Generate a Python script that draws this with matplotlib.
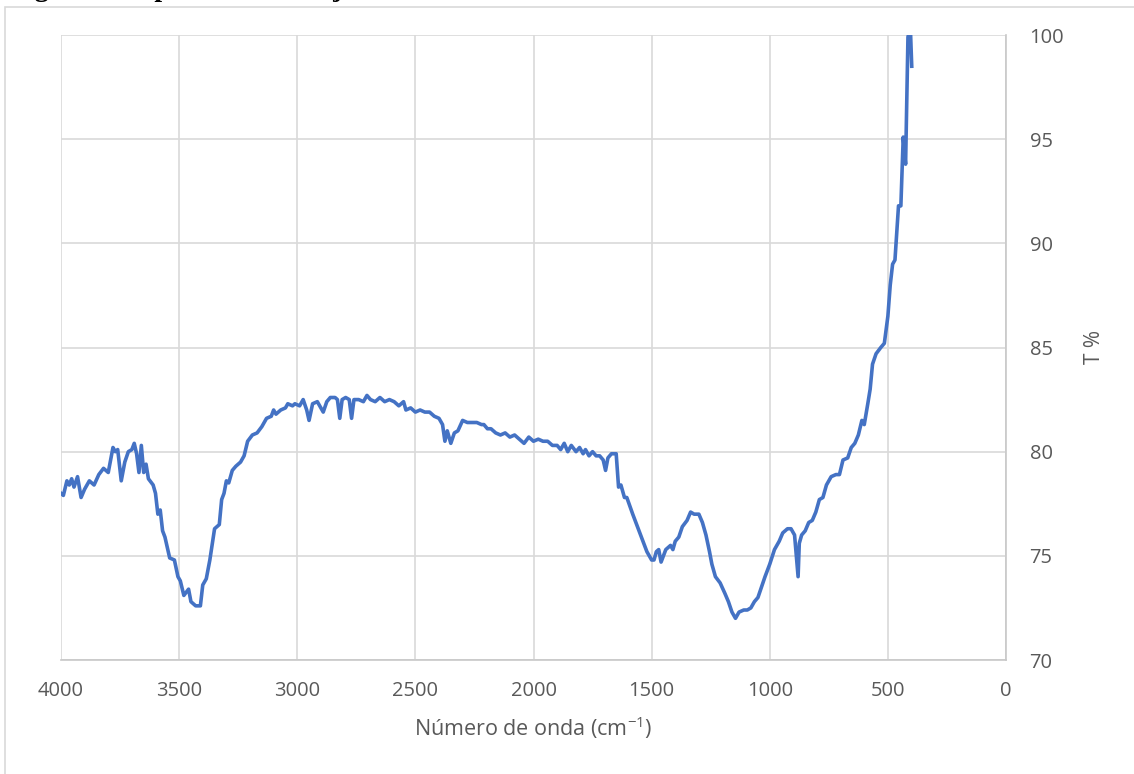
import matplotlib

matplotlib.use("Agg")
import matplotlib.pyplot as plt
from matplotlib.patches import Rectangle

# %% Spectrum values (cm-1, T %)
wavenumber = [
    4000, 3990, 3975, 3965, 3955, 3945, 3930, 3915, 3900, 3880, 3860, 3840,
    3820, 3800, 3780, 3770, 3760, 3745, 3730, 3715, 3700, 3690, 3680, 3670,
    3660, 3650, 3640, 3630, 3610, 3600, 3590, 3580, 3570, 3560, 3540, 3520,
    3505, 3495, 3480, 3460, 3450, 3430, 3410, 3400, 3385, 3370, 3350, 3330,
    3320, 3310, 3300, 3290, 3275, 3260, 3240, 3225, 3210, 3190, 3170, 3150,
    3130, 3110, 3100, 3090, 3070, 3050, 3040, 3020, 3010, 2990, 2975, 2960,
    2950, 2935, 2915, 2900, 2890, 2875, 2860, 2840, 2830, 2820, 2810, 2795,
    2780, 2770, 2760, 2740, 2720, 2705, 2690, 2670, 2650, 2630, 2610, 2590,
    2570, 2550, 2540, 2520, 2500, 2480, 2460, 2440, 2420, 2400, 2385, 2375,
    2365, 2350, 2335, 2320, 2300, 2280, 2260, 2240, 2220, 2210, 2195, 2180,
    2160, 2140, 2120, 2100, 2080, 2060, 2040, 2020, 2000, 1980, 1960, 1940,
    1920, 1900, 1885, 1870, 1855, 1840, 1820, 1805, 1790, 1780, 1765, 1750,
    1735, 1720, 1705, 1695, 1685, 1670, 1660, 1650, 1640, 1630, 1615, 1605,
    1580, 1550, 1520, 1500, 1490, 1480, 1470, 1460, 1440, 1420, 1410, 1400,
    1385, 1370, 1350, 1335, 1320, 1300, 1285, 1270, 1255, 1245, 1230, 1210,
    1190, 1175, 1160, 1145, 1130, 1110, 1095, 1080, 1065, 1050, 1035, 1020,
    1000, 980, 960, 945, 925, 910, 895, 880, 875, 865, 850, 835,
    820, 805, 790, 775, 760, 740, 720, 705, 690, 670, 655, 640,
    625, 610, 600, 585, 575, 565, 550, 530, 515, 500, 490, 480,
    470, 455, 445, 435, 425, 415, 405, 399,
]
transmittance = [
    78.0, 77.9, 78.6, 78.4, 78.7, 78.3, 78.8, 77.8, 78.2, 78.6, 78.4, 78.9,
    79.2, 79.0, 80.2, 80.0, 80.1, 78.6, 79.5, 80.0, 80.1, 80.4, 79.9, 79.0,
    80.3, 79.0, 79.4, 78.7, 78.4, 78.0, 77.0, 77.2, 76.2, 75.9, 74.9, 74.8,
    74.0, 73.8, 73.1, 73.4, 72.8, 72.6, 72.6, 73.6, 73.9, 74.8, 76.3, 76.5,
    77.7, 78.0, 78.6, 78.5, 79.1, 79.3, 79.5, 79.8, 80.5, 80.8, 80.9, 81.2,
    81.6, 81.7, 82.0, 81.8, 82.0, 82.1, 82.3, 82.2, 82.3, 82.2, 82.5, 82.0,
    81.5, 82.3, 82.4, 82.1, 81.9, 82.4, 82.6, 82.6, 82.5, 81.6, 82.5, 82.6,
    82.5, 81.6, 82.5, 82.5, 82.4, 82.7, 82.5, 82.4, 82.6, 82.4, 82.5, 82.4,
    82.2, 82.4, 82.0, 82.1, 81.9, 82.0, 81.9, 81.9, 81.7, 81.6, 81.3, 80.5,
    81.0, 80.4, 80.9, 81.0, 81.5, 81.4, 81.4, 81.4, 81.3, 81.3, 81.1, 81.1,
    80.9, 80.8, 80.9, 80.7, 80.8, 80.6, 80.4, 80.7, 80.5, 80.6, 80.5, 80.5,
    80.3, 80.3, 80.1, 80.4, 80.0, 80.3, 80.0, 80.2, 79.9, 80.1, 79.8, 80.0,
    79.8, 79.8, 79.6, 79.1, 79.7, 79.9, 79.9, 79.9, 78.3, 78.4, 77.8, 77.8,
    77.0, 76.1, 75.2, 74.8, 74.8, 75.2, 75.3, 74.7, 75.3, 75.5, 75.3, 75.7,
    75.9, 76.4, 76.7, 77.1, 77.0, 77.0, 76.6, 76.0, 75.2, 74.6, 74.0, 73.7,
    73.2, 72.8, 72.3, 72.0, 72.3, 72.4, 72.4, 72.5, 72.8, 73.0, 73.5, 74.0,
    74.6, 75.3, 75.7, 76.1, 76.3, 76.3, 76.0, 74.0, 75.6, 76.0, 76.2, 76.6,
    76.7, 77.1, 77.7, 77.8, 78.4, 78.8, 78.9, 78.9, 79.6, 79.7, 80.2, 80.4,
    80.8, 81.5, 81.3, 82.3, 83.0, 84.2, 84.7, 85.0, 85.2, 86.5, 88.0, 89.0,
    89.2, 91.8, 91.8, 95.1, 93.8, 99.9, 100.4, 98.5,
]

x_ticks = [4000, 3500, 3000, 2500, 2000, 1500, 1000, 500, 0]
y_ticks = [70, 75, 80, 85, 90, 95, 100]

title_text = "Figura 4. Espectro infrarrojo de carbón CG-TC-1-PG"
xlabel_text = "Número de onda (cm$^{-1}$)"
ylabel_text = "T %"

# %% Plot
plt.rcParams["font.family"] = ["Open Sans", "DejaVu Sans"]
plt.rcParams["mathtext.fontset"] = "custom"
plt.rcParams["mathtext.rm"] = "Open Sans"

W, H = 1134, 774
fig = plt.figure(figsize=(W / 100, H / 100), dpi=100)
ax = fig.add_axes([61 / W, 1 - 660 / H, (1006 - 61) / W, (660 - 35) / H])

ax.plot(wavenumber, transmittance, color="#4472C4", linewidth=2.6)

ax.set_xlim(4000, 0)
ax.set_ylim(70, 100)
ax.set_xticks(x_ticks)
ax.set_yticks(y_ticks)
ax.yaxis.tick_right()
ax.yaxis.set_label_position("right")
ax.grid(True, color="#d9d9d9", linewidth=1.2)
ax.set_axisbelow(True)

for side in ["top", "left"]:
    ax.spines[side].set_visible(False)
for side in ["bottom", "right"]:
    ax.spines[side].set_color("#c8c8c8")
    ax.spines[side].set_linewidth(1.2)

ax.tick_params(axis="both", length=0, labelsize=14.5, colors="#595959")
ax.tick_params(axis="x", pad=15)
ax.tick_params(axis="y", pad=17)

ax.set_xlabel(xlabel_text, fontsize=15.5, color="#595959", labelpad=10)
ax.set_ylabel(ylabel_text, fontsize=15, color="#595959", labelpad=14)

# outer chart frame and the caption above it, cropped off like in the page scan
fig.patches.append(
    Rectangle((5 / W, -0.1), 1.2, 1.1 - 7 / H, transform=fig.transFigure,
              fill=False, edgecolor="#d9d9d9", linewidth=1.2)
)
fig.text(10 / W, 1 + 4 / H, title_text, fontsize=20, fontweight="bold",
         family="Liberation Serif", color="black", va="baseline", ha="left")

fig.savefig("out.png", dpi=100)
plt.close(fig)
